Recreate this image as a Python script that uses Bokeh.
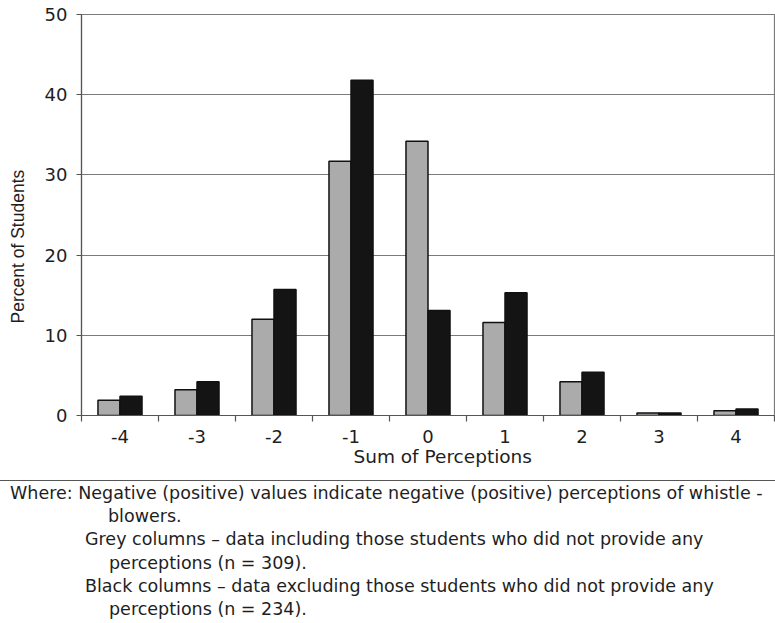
from bokeh.plotting import figure
from bokeh.models import ColumnDataSource, Range1d, FixedTicker, Div
from bokeh.layouts import column
from bokeh.transform import dodge
from bokeh.embed import file_html
from bokeh.resources import INLINE

categories = [-4, -3, -2, -1, 0, 1, 2, 3, 4]
grey_values = [1.9, 3.2, 12.0, 31.7, 34.2, 11.6, 4.2, 0.3, 0.6]
black_values = [2.4, 4.2, 15.7, 41.8, 13.1, 15.3, 5.4, 0.3, 0.8]
y_ticks = [0, 10, 20, 30, 40, 50]
x_title = "Sum of Perceptions"
y_title = "Percent of Students"

FONT = "DejaVu Sans"
NBSP = "\u00a0"

src = ColumnDataSource(dict(x=categories, grey=grey_values, black=black_values))

p = figure(width=775, height=470, output_backend="svg", toolbar_location=None,
           x_range=Range1d(-4.5, 4.5), y_range=Range1d(0, 50),
           min_border_left=81, min_border_right=1, min_border_top=14, min_border_bottom=55)
p.frame_width = 693
p.frame_height = 401

bw = 0.286
p.vbar(x=dodge('x', -bw / 2, range=p.x_range), top='grey', width=bw, bottom=0, source=src,
       fill_color="#ababab", line_color="#111111", line_width=1.5)
p.vbar(x=dodge('x', bw / 2, range=p.x_range), top='black', width=bw, bottom=0, source=src,
       fill_color="#141414", line_color="#111111", line_width=1.5)

p.xgrid.visible = False
p.ygrid.ticker = FixedTicker(ticks=y_ticks)
p.ygrid.grid_line_color = "#7a7a7a"
p.ygrid.grid_line_width = 1.2
p.outline_line_color = "#7a7a7a"
p.outline_line_width = 1.2
p.background_fill_color = "white"
p.border_fill_color = "white"

xa = p.xaxis[0]
xa.ticker = FixedTicker(ticks=categories, minor_ticks=[c - 0.5 for c in categories] + [4.5])
xa.major_label_overrides = {c: str(c) for c in categories}
xa.major_tick_line_color = None
xa.major_tick_out = 6
xa.major_tick_in = 0
xa.minor_tick_out = 6
xa.minor_tick_in = 0
xa.minor_tick_line_color = "#555555"
xa.minor_tick_line_width = 1.2
xa.axis_line_color = "#555555"
xa.axis_line_width = 1.2
xa.major_label_standoff = 8
xa.major_label_text_font = FONT
xa.major_label_text_font_size = "18px"
xa.major_label_text_color = "#1e1e1e"
# leading no-break spaces shift the title right, as in the reference
xa.axis_label = NBSP * 5 + x_title
xa.axis_label_text_font = FONT
xa.axis_label_text_font_size = "18.5px"
xa.axis_label_text_font_style = "normal"
xa.axis_label_text_color = "#1e1e1e"
xa.axis_label_standoff = 0

ya = p.yaxis[0]
ya.ticker = FixedTicker(ticks=y_ticks)
ya.major_tick_out = 5
ya.major_tick_in = 0
ya.minor_tick_line_color = None
ya.major_tick_line_color = "#555555"
ya.major_tick_line_width = 1.2
ya.axis_line_color = "#555555"
ya.axis_line_width = 1.2
ya.major_label_standoff = 9
ya.major_label_text_font = FONT
ya.major_label_text_font_size = "18px"
ya.major_label_text_color = "#1e1e1e"
# trailing no-break spaces shift the rotated title downward, as in the reference
ya.axis_label = y_title + NBSP * 13
ya.axis_label_text_font = "Liberation Sans"
ya.axis_label_text_font_size = "17.5px"
ya.axis_label_text_font_style = "normal"
ya.axis_label_text_color = "#1e1e1e"
ya.axis_label_standoff = 14

caption_lines = [
    (10, "Where: Negative (positive) values indicate negative (positive) perceptions of whistle -"),
    (108, "blowers."),
    (85, "Grey columns \u2013 data including those students who did not provide any"),
    (109, "perceptions (n = 309)."),
    (85, "Black columns \u2013 data excluding those students who did not provide any"),
    (109, "perceptions (n = 234)."),
]
inner = "".join(
    f'<div style="padding-left:{x}px;white-space:nowrap;height:23.2px;line-height:23.2px;">{t}</div>'
    for x, t in caption_lines)
html = (f'<div style="margin-top:10px;border-top:1.5px solid #555;width:775px;padding-top:1px;'
        f'font-family:\'{FONT}\';font-size:17.5px;color:#1e1e1e;">{inner}</div>')
cap = Div(text=html, width=775, height=153, margin=(0, 0, 0, 0))

layout = column(p, cap, spacing=0, margin=(0, 0, 0, 0))
open("out.html", "w").write(file_html(layout, INLINE))
